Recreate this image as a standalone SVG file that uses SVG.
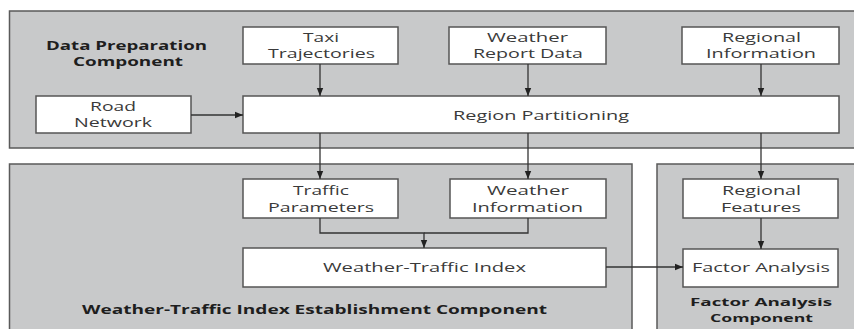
<svg xmlns="http://www.w3.org/2000/svg" width="854" height="329" viewBox="0 0 854 329">
<defs>
<style>
.cont{fill:#c8c9ca;stroke:#5a5a5a;stroke-width:1.5}
.box{fill:#ffffff;stroke:#555555;stroke-width:1.5}
.t{font-family:"Open Sans","Liberation Sans",sans-serif;font-size:12.5px;fill:#3a3a3a}
.b{font-family:"Open Sans","Liberation Sans",sans-serif;font-size:12.5px;font-weight:bold;fill:#1e1e1e}
.bs{font-size:11px}
.c{fill:none;stroke:#333333;stroke-width:1.3}
</style>
<marker id="ah" markerWidth="8" markerHeight="8" viewBox="0 0 10 10" refX="10" refY="5" orient="auto" markerUnits="userSpaceOnUse">
<path d="M0,1 L10,5 L0,9 Z" fill="#222222"/>
</marker>
</defs>
<rect width="854" height="329" fill="#ffffff"/>
<g id="data-preparation">
<rect class="cont" x="9.5" y="11" width="850" height="137"/>
<text class="b" x="46" y="49.5" textLength="161" lengthAdjust="spacingAndGlyphs">Data Preparation</text>
<text class="b" x="73" y="65.5" textLength="110" lengthAdjust="spacingAndGlyphs">Component</text>
</g>
<g id="wti-establishment">
<rect class="cont" x="9.5" y="164" width="622.5" height="175"/>
<text class="b" x="82" y="314" textLength="465" lengthAdjust="spacingAndGlyphs">Weather-Traffic Index Establishment Component</text>
</g>
<g id="factor-analysis-component">
<rect class="cont" x="657" y="164" width="210" height="175"/>
<text class="b bs" x="690" y="305.5" textLength="142" lengthAdjust="spacingAndGlyphs">Factor Analysis</text>
<text class="b bs" x="710" y="321.5" textLength="103" lengthAdjust="spacingAndGlyphs">Component</text>
</g>
<g id="taxi">
<rect class="box" x="243" y="27" width="155" height="37"/>
<text class="t" x="303" y="41.5" textLength="36" lengthAdjust="spacingAndGlyphs">Taxi</text>
<text class="t" x="268" y="57.5" textLength="107" lengthAdjust="spacingAndGlyphs">Trajectories</text>
</g>
<g id="weather-report">
<rect class="box" x="449" y="27" width="157" height="37"/>
<text class="t" x="487" y="41.5" textLength="81" lengthAdjust="spacingAndGlyphs">Weather</text>
<text class="t" x="473" y="57.5" textLength="110" lengthAdjust="spacingAndGlyphs">Report Data</text>
</g>
<g id="regional-info">
<rect class="box" x="682" y="27" width="157" height="37"/>
<text class="t" x="722" y="41.5" textLength="79" lengthAdjust="spacingAndGlyphs">Regional</text>
<text class="t" x="706" y="57.5" textLength="110" lengthAdjust="spacingAndGlyphs">Information</text>
</g>
<g id="road-network">
<rect class="box" x="36" y="96" width="155" height="37"/>
<text class="t" x="90" y="110.5" textLength="46" lengthAdjust="spacingAndGlyphs">Road</text>
<text class="t" x="74" y="127" textLength="78" lengthAdjust="spacingAndGlyphs">Network</text>
</g>
<g id="region-partitioning">
<rect class="box" x="243" y="96" width="596" height="37"/>
<text class="t" x="453" y="120" textLength="176" lengthAdjust="spacingAndGlyphs">Region Partitioning</text>
</g>
<g id="traffic-parameters">
<rect class="box" x="243" y="179" width="155" height="39"/>
<text class="t" x="293" y="195" textLength="56" lengthAdjust="spacingAndGlyphs">Traffic</text>
<text class="t" x="268" y="211.5" textLength="106" lengthAdjust="spacingAndGlyphs">Parameters</text>
</g>
<g id="weather-information">
<rect class="box" x="450" y="179" width="156" height="39"/>
<text class="t" x="487" y="195" textLength="82" lengthAdjust="spacingAndGlyphs">Weather</text>
<text class="t" x="472" y="211.5" textLength="111" lengthAdjust="spacingAndGlyphs">Information</text>
</g>
<g id="regional-features">
<rect class="box" x="683" y="179" width="155" height="39"/>
<text class="t" x="722" y="195" textLength="79" lengthAdjust="spacingAndGlyphs">Regional</text>
<text class="t" x="721" y="211.5" textLength="80" lengthAdjust="spacingAndGlyphs">Features</text>
</g>
<g id="weather-traffic-index">
<rect class="box" x="243" y="248" width="363" height="39"/>
<text class="t" x="323" y="272" textLength="203" lengthAdjust="spacingAndGlyphs">Weather-Traffic Index</text>
</g>
<g id="factor-analysis">
<rect class="box" x="683" y="249" width="155" height="38"/>
<text class="t" x="692" y="272" textLength="138" lengthAdjust="spacingAndGlyphs">Factor Analysis</text>
</g>
<g id="connectors">
<path class="c" d="M320,64 V96" marker-end="url(#ah)"/>
<path class="c" d="M528,64 V96" marker-end="url(#ah)"/>
<path class="c" d="M761,64 V96" marker-end="url(#ah)"/>
<path class="c" d="M191,115 H243" marker-end="url(#ah)"/>
<path class="c" d="M320,133 V179" marker-end="url(#ah)"/>
<path class="c" d="M528,133 V179" marker-end="url(#ah)"/>
<path class="c" d="M761,133 V179" marker-end="url(#ah)"/>
<path class="c" d="M320,218 V233 H424 V248" marker-end="url(#ah)"/>
<path class="c" d="M528,218 V233 H424"/>
<path class="c" d="M761,218 V249" marker-end="url(#ah)"/>
<path class="c" d="M606,267 H683" marker-end="url(#ah)"/>
</g>
</svg>
